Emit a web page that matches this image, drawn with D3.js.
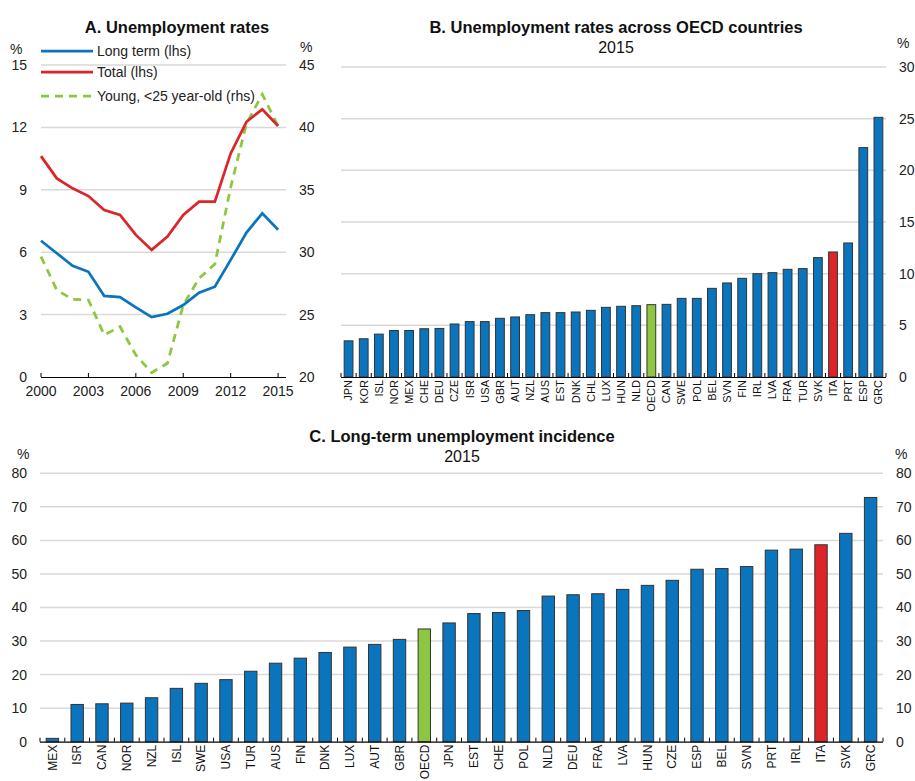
<!DOCTYPE html>
<meta charset="utf-8">
<style>
body { margin: 0; background: #fff; }
svg { font-family: "Liberation Sans", Arial, sans-serif; }
.grid line { stroke: #d9d9d9; stroke-width: 1.5; }
.title { font-weight: bold; font-size: 16.5px; text-anchor: middle; fill: #111; }
.sub { font-size: 16px; text-anchor: middle; fill: #111; }
.tick-lab { font-size: 14px; fill: #222; }
.cat { fill: #111; }
.bar { stroke: #333; stroke-width: 1; }
</style>
<svg width="915" height="781"></svg>
<script src="https://cdn.jsdelivr.net/npm/d3@7"></script>
<script>

// Panel A: Italy unemployment rates, 2000-2015
var years = d3.range(2000, 2016);
var longTerm = [6.55, 5.95, 5.35, 5.06, 3.9, 3.84, 3.35, 2.88, 3.04, 3.46, 4.05, 4.34, 5.63, 6.94, 7.87, 7.08];
var total = [10.62, 9.55, 9.07, 8.7, 8.03, 7.79, 6.83, 6.11, 6.75, 7.79, 8.43, 8.43, 10.75, 12.27, 12.87, 12.07];
var young = [29.65, 26.97, 26.22, 26.17, 23.37, 24.03, 21.76, 20.35, 21.1, 25.77, 27.9, 29.05, 35.2, 40.3, 42.65, 40.1];

// Panel B: unemployment rates 2015
var countriesB = ["JPN", "KOR", "ISL", "NOR", "MEX", "CHE", "DEU", "CZE", "ISR", "USA", "GBR", "AUT",
  "NZL", "AUS", "EST", "DNK", "CHL", "LUX", "HUN", "NLD", "OECD", "CAN", "SWE", "POL", "BEL", "SVN",
  "FIN", "IRL", "LVA", "FRA", "TUR", "SVK", "ITA", "PRT", "ESP", "GRC"];
var valuesB = [3.5, 3.7, 4.15, 4.5, 4.5, 4.67, 4.7, 5.13, 5.36, 5.36, 5.68, 5.81,
  6.03, 6.23, 6.23, 6.29, 6.45, 6.74, 6.84, 6.9, 7.0, 7.03, 7.61, 7.61, 8.58, 9.1,
  9.55, 10.0, 10.1, 10.42, 10.49, 11.55, 12.1, 12.97, 22.2, 25.13];

// Panel C: long-term unemployment incidence 2015
var countriesC = ["MEX", "ISR", "CAN", "NOR", "NZL", "ISL", "SWE", "USA", "TUR", "AUS", "FIN", "DNK",
  "LUX", "AUT", "GBR", "OECD", "JPN", "EST", "CHE", "POL", "NLD", "DEU", "FRA", "LVA", "HUN", "CZE",
  "ESP", "BEL", "SVN", "PRT", "IRL", "ITA", "SVK", "GRC"];
var valuesC = [1.0, 11.1, 11.3, 11.5, 13.1, 15.9, 17.4, 18.5, 21.0, 23.4, 24.9, 26.6,
  28.2, 29.0, 30.5, 33.6, 35.4, 38.2, 38.5, 39.1, 43.4, 43.8, 44.1, 45.4, 46.6, 48.1,
  51.4, 51.6, 52.2, 57.1, 57.4, 58.7, 62.1, 72.8];

var ticksA = [0, 3, 6, 9, 12, 15],
    ticksAR = [20, 25, 30, 35, 40, 45],
    yearTicks = [2000, 2003, 2006, 2009, 2012, 2015],
    ticksB = [0, 5, 10, 15, 20, 25, 30],
    ticksC = [0, 10, 20, 30, 40, 50, 60, 70, 80];

var blue = "#0a75bd", red = "#dd2529", green = "#8dc63f";

var svg = d3.select("svg");

function barColor(d) {
  return d === "OECD" ? green : d === "ITA" ? red : blue;
}

// ---------- Panel A ----------
var xA = d3.scaleLinear().domain([2000, 2015.5]).range([41, 286]),
    yA = d3.scaleLinear().domain([0, 15]).range([377, 65]),
    yAR = d3.scaleLinear().domain([20, 45]).range([377, 65]);

var gA = svg.append("g");

gA.append("g").attr("class", "grid")
  .selectAll("line").data(ticksA.slice(1)).enter().append("line")
    .attr("x1", 41).attr("x2", 286)
    .attr("y1", function(d) { return yA(d); })
    .attr("y2", function(d) { return yA(d); });

gA.selectAll(".lab-l").data(ticksA).enter().append("text")
    .attr("class", "tick-lab")
    .attr("x", 27).attr("y", function(d) { return yA(d); })
    .attr("dy", "0.35em").attr("text-anchor", "end")
    .text(function(d) { return d; });

gA.selectAll(".lab-r").data(ticksAR).enter().append("text")
    .attr("class", "tick-lab")
    .attr("x", 299).attr("y", function(d) { return yAR(d); })
    .attr("dy", "0.35em")
    .text(function(d) { return d; });

gA.append("text").attr("class", "tick-lab").attr("x", 10).attr("y", 54).text("%");
gA.append("text").attr("class", "tick-lab").attr("x", 300).attr("y", 52).text("%");

gA.append("line").attr("x1", 41).attr("x2", 286).attr("y1", 377.5).attr("y2", 377.5)
  .attr("stroke", "#000").attr("stroke-width", 1.2);
gA.selectAll(".ytick").data(yearTicks).enter().append("line")
    .attr("x1", function(d) { return xA(d); }).attr("x2", function(d) { return xA(d); })
    .attr("y1", 377).attr("y2", 373).attr("stroke", "#000");
gA.selectAll(".year").data(yearTicks).enter().append("text")
    .attr("class", "tick-lab")
    .attr("x", function(d) { return xA(d); }).attr("y", 396)
    .attr("text-anchor", "middle")
    .text(function(d) { return d; });

var lineL = d3.line()
    .x(function(d, i) { return xA(years[i]); })
    .y(function(d) { return yA(d); });
var lineR = d3.line()
    .x(function(d, i) { return xA(years[i]); })
    .y(function(d) { return yAR(d); });

gA.append("path").datum(young).attr("d", lineR)
  .attr("fill", "none").attr("stroke", green).attr("stroke-width", 2.75).attr("stroke-dasharray", "8,6");
gA.append("path").datum(longTerm).attr("d", lineL)
  .attr("fill", "none").attr("stroke", blue).attr("stroke-width", 2.75);
gA.append("path").datum(total).attr("d", lineL)
  .attr("fill", "none").attr("stroke", red).attr("stroke-width", 2.75);

var legend = [
  {name: "Long term (lhs)", color: blue, dash: null, y: 51},
  {name: "Total (lhs)", color: red, dash: null, y: 72},
  {name: "Young, <25 year-old (rhs)", color: green, dash: "8,6", y: 96}
];
var lg = gA.selectAll(".lg").data(legend).enter().append("g");
lg.append("line")
    .attr("x1", 41).attr("x2", 93)
    .attr("y1", function(d) { return d.y; }).attr("y2", function(d) { return d.y; })
    .attr("stroke", function(d) { return d.color; })
    .attr("stroke-width", 2.75)
    .attr("stroke-dasharray", function(d) { return d.dash; });
lg.append("text").attr("class", "tick-lab")
    .attr("x", 97).attr("y", function(d) { return d.y; }).attr("dy", "0.35em")
    .text(function(d) { return d.name; });

svg.append("text").attr("class", "title").attr("x", 177).attr("y", 33).text("A. Unemployment rates");

// ---------- Bar panels ----------
function barPanel(opt) {
  var x = d3.scaleBand().domain(opt.cats).range([opt.left, opt.right])
      .paddingInner(opt.pad).paddingOuter(opt.pad / 2);
  var y = d3.scaleLinear().domain([0, opt.max]).range([opt.bottom, opt.top]);
  var g = svg.append("g");
  var gap = (x.step() - x.bandwidth()) / 2;

  g.append("g").attr("class", "grid")
    .selectAll("line").data(opt.ticks.slice(1)).enter().append("line")
      .attr("x1", opt.left).attr("x2", opt.right)
      .attr("y1", function(d) { return y(d); })
      .attr("y2", function(d) { return y(d); });

  g.selectAll(".bar").data(opt.cats).enter().append("rect")
      .attr("class", "bar")
      .attr("x", function(d) { return x(d); })
      .attr("y", function(d, i) { return y(opt.values[i]); })
      .attr("width", x.bandwidth())
      .attr("height", function(d, i) { return y(0) - y(opt.values[i]); })
      .attr("fill", barColor);

  g.append("line").attr("x1", opt.left).attr("x2", opt.right)
    .attr("y1", y(0) + 0.5).attr("y2", y(0) + 0.5)
    .attr("stroke", "#000").attr("stroke-width", 1.2);

  var bounds = opt.cats.map(function(d) { return x(d) - gap; });
  bounds.push(x(opt.cats[opt.cats.length - 1]) + x.bandwidth() + gap);
  g.selectAll(".tk").data(bounds).enter().append("line")
      .attr("x1", function(d) { return d; }).attr("x2", function(d) { return d; })
      .attr("y1", y(0)).attr("y2", y(0) - 4).attr("stroke", "#000");

  g.selectAll(".cat").data(opt.cats).enter().append("text")
      .attr("class", "cat")
      .style("font-size", opt.catSize + "px")
      .attr("transform", function(d) {
        return "translate(" + (x(d) + x.bandwidth() / 2) + "," + (y(0) + 3) + ") rotate(-90)";
      })
      .attr("text-anchor", "end").attr("dy", "0.35em")
      .text(function(d) { return d; });

  if (opt.leftLabels) {
    g.selectAll(".ll").data(opt.ticks).enter().append("text")
        .attr("class", "tick-lab")
        .attr("x", opt.left - 13).attr("y", function(d) { return y(d); })
        .attr("dy", "0.35em").attr("text-anchor", "end")
        .text(function(d) { return d; });
  }
  g.selectAll(".rl").data(opt.ticks).enter().append("text")
      .attr("class", "tick-lab")
      .attr("x", opt.right + 13).attr("y", function(d) { return y(d); })
      .attr("dy", "0.35em")
      .text(function(d) { return d; });

  svg.append("text").attr("class", "title").attr("x", opt.tx).attr("y", opt.ty).text(opt.title);
  svg.append("text").attr("class", "sub").attr("x", opt.tx).attr("y", opt.ty + 20).text("2015");
}

barPanel({
  cats: countriesB, values: valuesB, max: 30, ticks: ticksB,
  left: 341, right: 886, top: 67, bottom: 377, pad: 0.42, catSize: 11,
  leftLabels: false, title: "B. Unemployment rates across OECD countries", tx: 616, ty: 33
});
svg.append("text").attr("class", "tick-lab").attr("x", 897).attr("y", 48).text("%");

barPanel({
  cats: countriesC, values: valuesC, max: 80, ticks: ticksC,
  left: 40, right: 883, top: 473.3, bottom: 741.7, pad: 0.5, catSize: 12,
  leftLabels: true, title: "C. Long-term unemployment incidence", tx: 462, ty: 442
});
svg.append("text").attr("class", "tick-lab").attr("x", 17).attr("y", 459).text("%");
svg.append("text").attr("class", "tick-lab").attr("x", 895).attr("y", 459).text("%");

</script>
